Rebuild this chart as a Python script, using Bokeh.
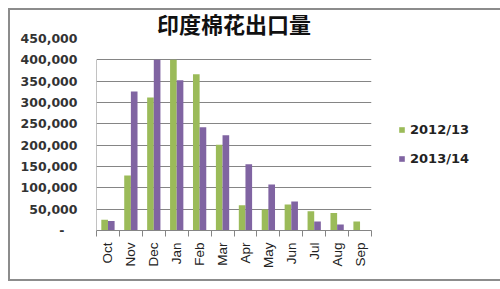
import numpy as np
from bokeh.plotting import figure
from bokeh.layouts import column
from bokeh.models import (Range1d, FixedTicker, Legend, LegendItem)
from bokeh.embed import file_html
from bokeh.resources import INLINE

months = ["Oct", "Nov", "Dec", "Jan", "Feb", "Mar", "Apr", "May", "Jun", "Jul", "Aug", "Sep"]
s2012 = [25000, 129000, 312000, 400000, 366000, 201000, 59000, 49000, 61000, 45000, 41000, 21000]
s2013 = [22000, 326000, 400000, 352000, 242000, 223000, 155000, 108000, 68000, 21000, 14000, 0]
series_names = ["2012/13", "2013/14"]
y_ticks = [0, 50000, 100000, 150000, 200000, 250000, 300000, 350000, 400000, 450000]
y_labels = ["-\u00a0\u00a0\u00a0", "50,000", "100,000", "150,000", "200,000", "250,000",
            "300,000", "350,000", "400,000", "450,000"]

GREEN = "#9BBB59"
PURPLE = "#8064A2"

p = figure(frame_width=275, frame_height=192, output_backend="svg", toolbar_location=None,
           x_range=Range1d(0, len(months)), y_range=Range1d(0, y_ticks[-1]),
           min_border_left=96, min_border_right=129, min_border_top=38, min_border_bottom=59)
p.outline_line_color = None
p.background_fill_color = "white"
p.border_fill_alpha = 0

idx = np.arange(len(months))
w = 0.29
r1 = p.vbar(x=idx + 0.5 - w / 2, top=s2012, width=w, bottom=0, fill_color=GREEN, line_color=None)
r2 = p.vbar(x=idx + 0.5 + w / 2, top=s2013, width=w, bottom=0, fill_color=PURPLE, line_color=None)

# grid
p.xgrid.visible = False
p.ygrid.ticker = FixedTicker(ticks=y_ticks)
p.ygrid.bounds = (0, y_ticks[-2])
p.ygrid.grid_line_color = "#858585"
p.ygrid.grid_line_width = 1

# y axis
yax = p.yaxis[0]
yax.ticker = FixedTicker(ticks=y_ticks)
yax.major_label_overrides = {t: l for t, l in zip(y_ticks, y_labels)}
yax.axis_line_color = None
yax.major_tick_line_color = None
yax.minor_tick_line_color = None
yax.major_label_text_font = "DejaVu Sans"
yax.major_label_text_font_style = "bold"
yax.major_label_text_font_size = "12.5px"
yax.major_label_text_color = "#333333"
yax.major_label_standoff = 13
p.segment(x0=[0], y0=[0], x1=[0], y1=[y_ticks[-2]], line_color="#858585", line_width=1)

# x axis
xax = p.xaxis[0]
xax.ticker = FixedTicker(ticks=list(idx + 0.5), minor_ticks=list(range(len(months) + 1)))
xax.major_label_overrides = {float(i + 0.5): m for i, m in enumerate(months)}
xax.major_label_orientation = np.pi / 2
xax.major_tick_line_color = None
xax.minor_tick_in = 0
xax.minor_tick_out = 6
xax.minor_tick_line_color = "#858585"
xax.axis_line_color = "#858585"
xax.major_label_text_font = "Liberation Sans"
xax.major_label_text_font_size = "13.5px"
xax.major_label_text_color = "#222222"
xax.major_label_standoff = 6

# title
p.title.text = "印度棉花出口量"
p.title.align = "center"
p.title.text_font = "Noto Sans CJK SC"
p.title.text_font_style = "bold"
p.title.text_font_size = "22px"
p.title.text_color = "#111111"
p.title.standoff = 0
p.title.offset = 2

# legend
legend = Legend(items=[LegendItem(label=series_names[0], renderers=[r1]),
                       LegendItem(label=series_names[1], renderers=[r2])],
                location=(27, 64), orientation="vertical",
                glyph_width=7, glyph_height=7, label_height=14, spacing=14,
                padding=0, margin=0, label_standoff=5,
                border_line_color=None, background_fill_alpha=0,
                label_text_font="DejaVu Sans", label_text_font_style="bold",
                label_text_font_size="13px", label_text_color="#222222")
p.add_layout(legend, "right")

layout = column(p, styles={"box-shadow": "inset 0 0 0 8px #ffffff, inset 0 0 0 10px #8c8c8c",
                           "background-color": "#ffffff"})

open("out.html", "w").write(file_html(layout, INLINE))
